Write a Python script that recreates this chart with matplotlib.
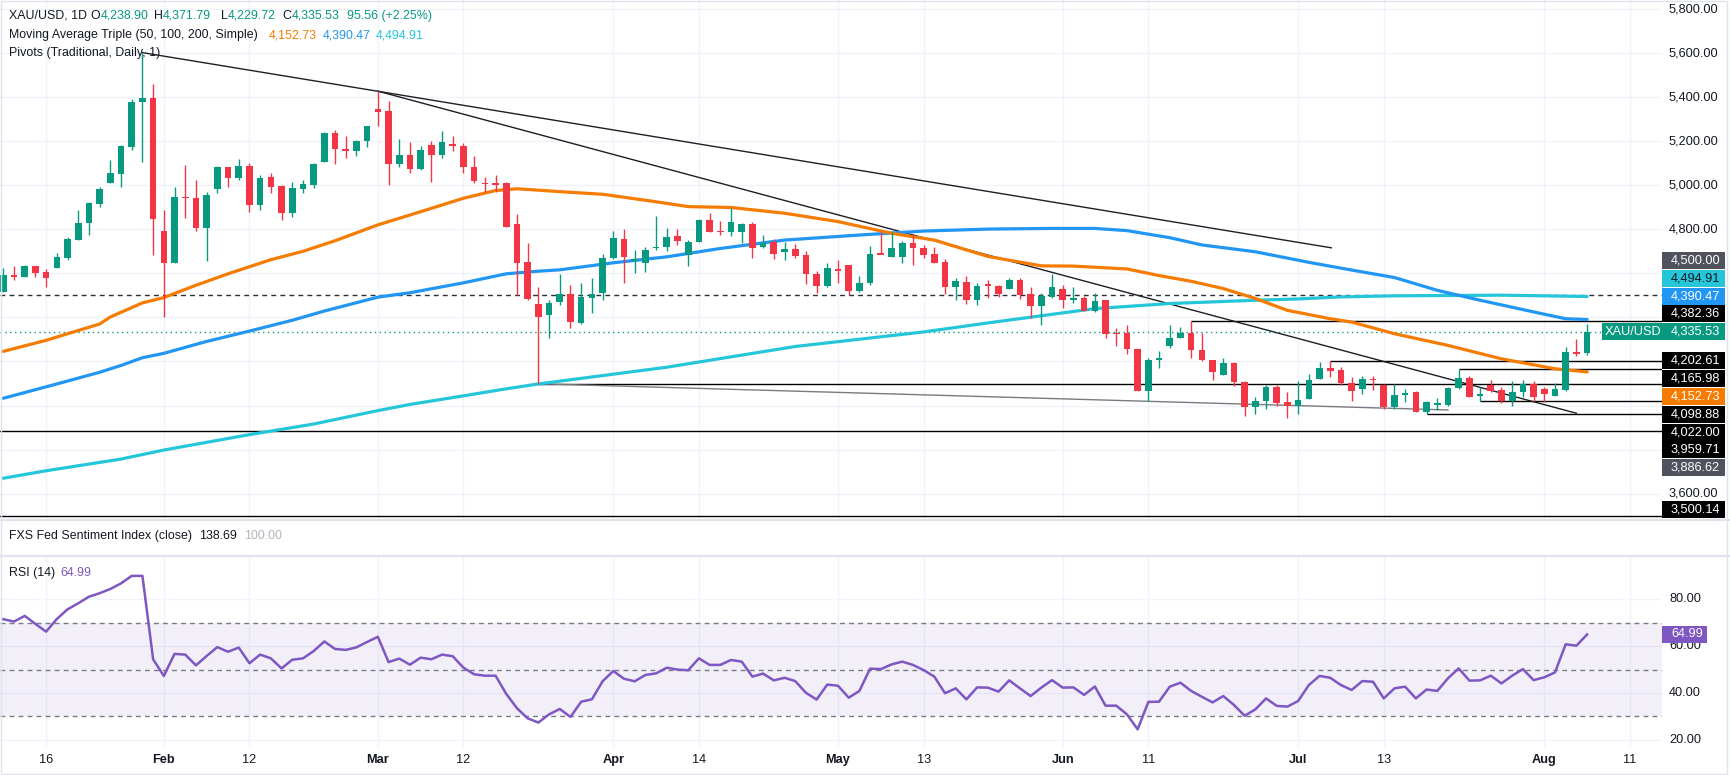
import matplotlib
matplotlib.use("Agg")
import matplotlib.pyplot as plt
import matplotlib.transforms as mtransforms
from matplotlib.patches import Rectangle
import numpy as np
import pandas as pd

plt.rcParams['font.family'] = ['Liberation Sans', 'DejaVu Sans']

# ---------------- data ----------------
opens = [4516, 4592, 4584, 4633, 4604, 4624, 4668, 4751, 4827, 4915,
         5009, 5052, 5173, 5377, 5397, 4792, 4648, 4947, 4943, 4807,
         4985, 5082, 5031, 5087, 4912, 5038, 4997, 4876, 4985, 5003,
         5107, 5239, 5166, 5154, 5199, 5348, 5339, 5097, 5138, 5075,
         5184, 5138, 5189, 5179, 5084, 5009, 5008, 5009, 4824, 4651,
         4460, 4409, 4470, 4508, 4375, 4489, 4511, 4671, 4754, 4657,
         4648, 4713, 4721, 4769, 4683, 4744, 4844, 4792, 4789, 4789,
         4824, 4721, 4741, 4698, 4710, 4683, 4596, 4543, 4622, 4637,
         4519, 4557, 4692, 4672, 4675, 4736, 4715, 4690, 4650, 4539,
         4563, 4478, 4549, 4542, 4531, 4569, 4508, 4452, 4493, 4531,
         4481, 4489, 4429, 4481, 4329, 4331, 4258, 4065, 4206, 4270,
         4308, 4331, 4253, 4208, 4139, 4192, 4109, 3992, 4022, 4083,
         4015, 4000, 4030, 4121, 4171, 4162, 4103, 4074, 4121, 4094,
         3995, 4050, 4060, 3969, 4004, 4004, 4079, 4126, 4045, 4091,
         4072, 4022, 4060, 4098, 4075, 4045, 4071, 4245, 4238.90]
highs = [4625, 4633, 4640, 4633, 4618, 4694, 4766, 4888, 4926, 4994,
         5116, 5184, 5392, 5602, 5460, 4888, 4994, 5093, 5025, 4971,
         5088, 5082, 5120, 5100, 5047, 5055, 5000, 5015, 5025, 5100,
         5243, 5252, 5222, 5207, 5268, 5427, 5384, 5211, 5196, 5179,
         5202, 5245, 5225, 5192, 5131, 5037, 5047, 5014, 4870, 4739,
         4536, 4481, 4599, 4549, 4554, 4581, 4690, 4792, 4801, 4706,
         4718, 4860, 4804, 4800, 4751, 4847, 4876, 4839, 4895, 4827,
         4835, 4774, 4756, 4741, 4733, 4701, 4610, 4646, 4660, 4640,
         4589, 4724, 4789, 4794, 4747, 4777, 4728, 4721, 4665, 4581,
         4589, 4554, 4569, 4546, 4577, 4577, 4536, 4513, 4599, 4546,
         4539, 4498, 4513, 4481, 4352, 4367, 4258, 4217, 4246, 4367,
         4356, 4382.36, 4331, 4208, 4217, 4197, 4113, 4041, 4091, 4091,
         4060, 4113, 4141, 4197, 4202.61, 4174, 4129, 4136, 4133, 4098,
         4098, 4075, 4065, 4022, 4033, 4083, 4165.98, 4136, 4083, 4116,
         4083, 4113, 4116, 4110, 4083, 4103, 4265, 4303, 4371.79]
lows = [4516, 4572, 4584, 4584, 4539, 4624, 4660, 4751, 4774, 4903,
        5009, 4994, 5161, 5104, 4683, 4402, 4648, 4853, 4792, 4657,
        4967, 4990, 5025, 4880, 4888, 4967, 4842, 4858, 4964, 4987,
        5107, 5097, 5123, 5134, 5172, 5268, 5002, 5085, 5055, 5067,
        5014, 5123, 5154, 5055, 5012, 4971, 4971, 4809, 4501, 4478,
        4098.88, 4308, 4455, 4352, 4372, 4420, 4481, 4663, 4557, 4602,
        4605, 4706, 4701, 4731, 4634, 4744, 4789, 4774, 4769, 4739,
        4671, 4716, 4665, 4662, 4671, 4552, 4511, 4539, 4558, 4501,
        4516, 4546, 4686, 4672, 4648, 4637, 4671, 4648, 4508, 4478,
        4463, 4455, 4489, 4493, 4531, 4485, 4399, 4367, 4489, 4445,
        4466, 4429, 4425, 4308, 4270, 4235, 4065, 4022, 4170, 4261,
        4308, 4217, 4202, 4118, 4139, 4088, 3954, 3962, 3984, 4000,
        3943, 3962, 4030, 4121, 4129, 4091, 4022, 4053, 4072, 3984,
        3984, 4018, 3969, 3959.71, 3981, 4000, 4074, 4038, 4022.00, 4060,
        4010, 4000, 4038, 4019, 4018, 4042, 4065, 4224, 4229.72]
closes = [4592, 4584, 4633, 4602, 4580, 4672, 4754, 4827, 4918, 4984,
          5055, 5180, 5380, 5397, 4847, 4648, 4947, 4940, 4807, 4956,
          5084, 5031, 5087, 4912, 5035, 4990, 4876, 4988, 5006, 5097,
          5239, 5164, 5154, 5199, 5268, 5331, 5097, 5138, 5075, 5158,
          5138, 5195, 5176, 5081, 5017, 5006, 5005, 4812, 4648, 4485,
          4402, 4467, 4505, 4379, 4492, 4508, 4668, 4759, 4675, 4663,
          4706, 4721, 4766, 4748, 4744, 4844, 4789, 4788, 4832, 4824,
          4716, 4736, 4689, 4710, 4680, 4595, 4543, 4624, 4612, 4519,
          4554, 4690, 4686, 4715, 4736, 4713, 4683, 4648, 4539, 4566,
          4478, 4543, 4546, 4508, 4572, 4504, 4452, 4498, 4536, 4481,
          4490, 4429, 4473, 4323, 4326, 4258, 4065, 4208, 4217, 4308,
          4331, 4253, 4205, 4151, 4192, 4106, 3995, 4022, 4086, 4010,
          4000, 4025, 4116, 4171, 4159, 4101, 4068, 4121, 4116, 3995,
          4048, 4057, 3969, 4018, 4009, 4079, 4126, 4041, 4050, 4068,
          4022, 4063, 4098, 4038, 4053, 4075, 4245, 4235, 4335.53]

rsi = [71.5, 70.5, 72.9, 69.5, 66.2, 71.6, 75.7, 78.3, 81.1, 82.6,
       84.4, 86.8, 90.0, 90.0, 54.4, 47.3, 56.7, 56.4, 51.8, 55.8,
       59.6, 57.6, 59.4, 52.7, 56.4, 54.8, 50.5, 54.2, 54.8, 57.9,
       62.0, 58.8, 58.4, 59.5, 61.8, 64.0, 53.2, 54.7, 52.1, 55.1,
       54.4, 56.4, 55.7, 50.8, 48.0, 47.4, 47.4, 39.6, 33.5, 29.2,
       27.4, 30.9, 33.2, 29.8, 36.3, 37.3, 45.0, 49.4, 46.1, 45.0,
       47.7, 48.4, 50.8, 50.0, 49.7, 54.8, 52.0, 52.0, 54.1, 53.4,
       47.0, 48.3, 45.4, 46.5, 45.1, 40.1, 37.2, 43.6, 43.1, 38.0,
       40.9, 50.4, 50.2, 52.2, 53.4, 52.0, 49.8, 47.0, 39.9, 42.0,
       37.3, 42.4, 42.3, 40.6, 45.4, 42.0, 38.7, 42.3, 45.5, 42.3,
       42.4, 39.2, 42.8, 34.6, 34.6, 30.9, 24.5, 36.2, 36.3, 42.7,
       44.4, 40.9, 38.4, 36.0, 38.7, 34.9, 30.3, 33.0, 37.7, 34.5,
       34.2, 36.6, 43.4, 47.3, 46.5, 43.4, 41.3, 45.1, 44.8, 37.7,
       42.0, 42.7, 37.7, 41.5, 40.9, 46.3, 50.5, 45.3, 45.4, 47.4,
       44.1, 47.4, 50.2, 45.5, 46.7, 48.8, 60.8, 60.2, 64.99]

# moving averages read at bar positions
ma50_idx = [0, 4, 6, 9, 10, 13, 15, 18, 21, 25, 28, 31, 35, 39, 43, 46, 48, 52, 56,
            61, 64, 68, 73, 78, 83, 87, 92, 97, 100, 105, 108, 111, 114, 117, 120,
            124, 126, 130, 135, 140, 145, 148]
ma50_val = [4246, 4296, 4326, 4370, 4402, 4466, 4490, 4546, 4598, 4662, 4700, 4748,
            4820, 4880, 4941, 4976, 4984, 4971, 4959, 4925, 4903, 4899, 4873, 4835,
            4782, 4751, 4677, 4634, 4633, 4620, 4590, 4564, 4531, 4486, 4432, 4394,
            4379, 4326, 4273, 4212, 4167, 4152.73]
ma100_idx = [0, 5, 9, 11, 13, 15, 19, 23, 27, 30, 35, 38, 43, 47, 50, 52, 57, 62, 67,
             73, 80, 86, 92, 98, 102, 105, 109, 112, 117, 122, 126, 130, 134, 138,
             143, 146, 148]
ma100_val = [4033, 4098, 4151, 4182, 4217, 4237, 4291, 4338, 4387, 4429, 4492, 4512,
             4557, 4598, 4610, 4616, 4648, 4675, 4713, 4751, 4774, 4792, 4801, 4804,
             4804, 4794, 4762, 4729, 4698, 4650, 4615, 4581, 4523, 4478, 4425, 4394,
             4390.47]
ma200_idx = [0, 4, 11, 15, 19, 23, 29, 35, 38, 43, 47, 50, 62, 74, 86, 92, 102, 109,
             117, 121, 125, 130, 140, 148]
ma200_val = [3670, 3704, 3757, 3798, 3833, 3868, 3916, 3977, 4005, 4044, 4076, 4098,
             4174, 4268, 4334, 4375, 4440, 4463, 4478, 4484, 4493, 4498, 4501, 4494.91]

# drawn trend lines (bar index, price)
trend_x0 = [13, 35, 50]
trend_y0 = [5602, 5427, 4098.88]
trend_x1 = [124.1, 147, 135]
trend_y1 = [4716, 3965, 3980]
trend_col = ['#1e1e24', '#1e1e24', '#7a7a80']

# horizontal levels (price, start bar or None = full width)
level_price = [4500.00, 4382.36, 4202.61, 4165.98, 4098.88, 4022.00, 3959.71, 3886.62, 3500.14]
level_start = [None, 111, 124, 136, 50, 138, 133, None, None]
level_bg = ['#50535e', '#000000', '#000000', '#000000', '#000000', '#000000', '#000000',
            '#50535e', '#000000']

tick_dates = ['2026-01-16', '2026-02-02', '2026-02-12', '2026-03-02', '2026-03-12',
              '2026-04-01', '2026-04-14', '2026-05-01', '2026-05-13', '2026-06-01',
              '2026-06-11', '2026-07-01', '2026-07-13', '2026-08-03', '2026-08-11']
tick_labels = ['16', 'Feb', '12', 'Mar', '12', 'Apr', '14', 'May', '13', 'Jun', '11',
               'Jul', '13', 'Aug', '11']

price_ticks = [3600, 3800, 4000, 4200, 4400, 4600, 4800, 5000, 5200, 5400, 5600, 5800]
rsi_ticks = [20, 40, 60, 80]

# ---------------- styling ----------------
GREEN = '#089981'
RED = '#f23645'
ORANGE = '#f57c00'
BLUE = '#2196f3'
CYAN = '#26c6da'
PURPLE = '#7e57c2'
DARK = '#131722'
GRID = '#f0f3fa'
SEP = '#e0e3eb'

W, H = 1730, 775
PR = 1662          # right edge of plot area (px)
AX_TXT = 1669      # x of axis text (px)
BOX_R = 1725

dates = pd.bdate_range('2026-01-12', '2026-08-07')
dates = dates[dates != pd.Timestamp('2026-04-03')]
n = len(closes)


def tick_pos(ds):
    d = pd.Timestamp(ds)
    if d <= dates[-1]:
        return int(dates.searchsorted(d))
    return (len(dates) - 1) + (d - dates[-1]).days


ticks = [tick_pos(d) for d in tick_dates]

fig = plt.figure(figsize=(W / 100, H / 100), dpi=100)
fig.patch.set_facecolor('white')


def axrect(top, bottom):
    return [0, 1 - bottom / H, PR / W, (bottom - top) / H]


ax = fig.add_axes(axrect(0, 520))
axf = fig.add_axes(axrect(520, 556))
axr = fig.add_axes(axrect(556, 747))

XMIN, XMAX = -0.31, 155.0
P_PER_PX = 1 / 0.2203
YMAX = 4800 + 229.3 * P_PER_PX
YMIN = 4800 - 290.7 * P_PER_PX
RSI_PX = 2.343
RMAX = 80 + 43.3 / RSI_PX
RMIN = 80 - 147.7 / RSI_PX

for a in (ax, axf, axr):
    a.set_xlim(XMIN, XMAX)
    a.set_xticks([])
    a.set_yticks([])
    for s in a.spines.values():
        s.set_visible(False)
    a.set_facecolor('white')

ax.set_ylim(YMIN, YMAX)
axr.set_ylim(RMIN, RMAX)
axf.set_ylim(0, 1)

# grids
for t in ticks:
    ax.axvline(t, color=GRID, lw=1.0, zorder=0)
    axr.axvline(t, color=GRID, lw=1.0, zorder=0)
for p in price_ticks:
    ax.axhline(p, color=GRID, lw=1.0, zorder=0)
for r in rsi_ticks:
    axr.axhline(r, color=GRID, lw=1.0, zorder=0)

# MAs
ax.plot(ma200_idx, ma200_val, color=CYAN, lw=2.3, zorder=2, solid_capstyle='round')
ax.plot(ma100_idx, ma100_val, color=BLUE, lw=2.3, zorder=2, solid_capstyle='round')
ax.plot(ma50_idx, ma50_val, color=ORANGE, lw=2.3, zorder=2, solid_capstyle='round')

# levels
for p, s in zip(level_price, level_start):
    if p == 4500.00:
        ax.axhline(p, color='#2a2e39', lw=1.0, ls=(0, (3.5, 3)), zorder=1.5)
    elif s is None:
        ax.axhline(p, color='#000000', lw=1.0, zorder=1.5)
    else:
        ax.hlines(p, s, XMAX, color='#000000', lw=1.0, zorder=1.5)

# current price dotted line
ax.axhline(closes[-1], color=GREEN, lw=1.0, ls=(0, (1, 2.5)), zorder=1.5)

# trend lines
for x0, y0, x1, y1, c in zip(trend_x0, trend_y0, trend_x1, trend_y1, trend_col):
    ax.plot([x0, x1], [y0, y1], color=c, lw=1.0, zorder=1.6)

# candles
o = np.array(opens, float)
h = np.array(highs, float)
l = np.array(lows, float)
c = np.array(closes, float)
x = np.arange(n)
col = np.where(c >= o, GREEN, RED)
ax.vlines(x, l, h, colors=col, lw=1.0, zorder=3)
minh = 1.6 * P_PER_PX
bh = np.abs(c - o)
mid = (o + c) / 2
bb = np.where(bh < minh, mid - minh / 2, np.minimum(o, c))
bh = np.maximum(bh, minh)
ax.bar(x, bh, bottom=bb, width=0.62, color=col, linewidth=0, zorder=4)

# RSI pane
axr.axhspan(30, 70, color=PURPLE, alpha=0.09, lw=0, zorder=0.5)
for lv in (70, 50, 30):
    axr.axhline(lv, color='#787b86', lw=1.0, ls=(0, (3.5, 3)), zorder=1)
axr.plot(x, rsi, color=PURPLE, lw=1.8, zorder=3)

# separators / border
for yy in (520, 556):
    fig.add_artist(plt.Line2D([0, 1], [1 - yy / H, 1 - yy / H], color=SEP, lw=1.6,
                              transform=fig.transFigure))
fig.add_artist(Rectangle((0.5 / W, 1.5 / H), (W - 4) / W, (H - 2.5) / H, fill=False,
                         edgecolor=SEP, lw=1.0, transform=fig.transFigure))

# ---------------- right price axis labels ----------------
tp = mtransforms.blended_transform_factory(fig.transFigure, ax.transData)
gap = 17.8 * P_PER_PX
boxh = 17.0 * P_PER_PX
cur = closes[-1]

labels = [(level_price[i], '{:,.2f}'.format(level_price[i]), level_bg[i], 'white')
          for i in range(len(level_price))]
labels += [(ma50_val[-1], '{:,.2f}'.format(ma50_val[-1]), ORANGE, 'white'),
           (ma100_val[-1], '{:,.2f}'.format(ma100_val[-1]), BLUE, 'white'),
           (ma200_val[-1], '{:,.2f}'.format(ma200_val[-1]), CYAN, DARK)]
above = sorted([lb for lb in labels if lb[0] > cur], key=lambda t: t[0])
below = sorted([lb for lb in labels if lb[0] < cur], key=lambda t: -t[0])
placed = [(cur, cur, '{:,.2f}'.format(cur), GREEN, 'white')]
prev = cur
for p, txt, bg, fg in above:
    pos = max(p, prev + gap)
    placed.append((p, pos, txt, bg, fg))
    prev = pos
prev = cur
for p, txt, bg, fg in below:
    pos = min(p, prev - gap)
    pos = max(pos, YMIN + gap / 2 + 2 * P_PER_PX)
    placed.append((p, pos, txt, bg, fg))
    prev = pos

AXFS = 9.2
for p, pos, txt, bg, fg in placed:
    left = PR if bg != GREEN else 1601.7
    ax.add_patch(Rectangle((left / W, pos - boxh / 2), (BOX_R - left) / W, boxh,
                           transform=tp, facecolor=bg, edgecolor='none',
                           clip_on=False, zorder=10))
    ax.text(AX_TXT / W + 2 / W, pos, txt, transform=tp, color=fg, fontsize=AXFS,
            va='center', ha='left', clip_on=False, zorder=11)
    if bg == GREEN:
        ax.text(1605 / W, pos, 'XAU/USD', transform=tp, color='white', fontsize=AXFS,
                va='center', ha='left', clip_on=False, zorder=11)

box_pos = [q[1] for q in placed]
for p in price_ticks:
    if YMIN < p < YMAX and all(abs(p - b) > 14 * P_PER_PX for b in box_pos):
        ax.text(AX_TXT / W, p, '{:,.2f}'.format(p), transform=tp, color=DARK,
                fontsize=AXFS, va='center', ha='left', clip_on=False)

# RSI axis labels
tr = mtransforms.blended_transform_factory(fig.transFigure, axr.transData)
for r in rsi_ticks:
    axr.text(AX_TXT / W, r, '{:.2f}'.format(r), transform=tr, color=DARK,
             fontsize=AXFS, va='center', ha='left', clip_on=False, zorder=5)
rbh = 17.0 / RSI_PX
axr.add_patch(Rectangle((PR / W, rsi[-1] - rbh / 2), (1707 - PR) / W, rbh, transform=tr,
                        facecolor=PURPLE, edgecolor='none', clip_on=False, zorder=10))
axr.text(AX_TXT / W + 2 / W, rsi[-1], '{:.2f}'.format(rsi[-1]), transform=tr,
         color='white', fontsize=AXFS, va='center', ha='left', clip_on=False, zorder=11)

# time axis labels
tx = mtransforms.blended_transform_factory(axr.transData, fig.transFigure)
for t, lab in zip(ticks, tick_labels):
    bold = lab.isalpha()
    axr.text(t, 1 - 760 / H, lab, transform=tx, color=DARK, fontsize=AXFS,
             ha='center', va='center', fontweight='bold' if bold else 'normal',
             clip_on=False)

# ---------------- legends ----------------
renderer = fig.canvas.get_renderer()
LFS = 8.9


def seq(x_px, y_px, parts, size=LFS):
    xx = x_px
    for txt, cc in parts:
        tt = fig.text(xx / W, 1 - y_px / H, txt, color=cc, fontsize=size,
                      va='center', ha='left', zorder=20)
        xx = tt.get_window_extent(renderer).x1
    return xx


chg = closes[-1] - closes[-2]
seq(9.3, 16, [('XAU/USD, 1D', DARK)])
seq(90.7, 16, [('O', DARK), ('{:,.2f}'.format(opens[-1]), GREEN)])
seq(154, 16, [('H', DARK), ('{:,.2f}'.format(highs[-1]), GREEN)])
seq(220.7, 16, [('L', DARK), ('{:,.2f}'.format(lows[-1]), GREEN)])
seq(282.7, 16, [('C', DARK), ('{:,.2f}'.format(closes[-1]), GREEN)])
seq(346.7, 16, [('95.56 (+2.25%)', GREEN)])
seq(9.3, 35, [('Moving Average Triple (50, 100, 200, Simple)', DARK)])
seq(268.3, 35, [('{:,.2f}'.format(ma50_val[-1]), ORANGE)])
seq(322.7, 35, [('{:,.2f}'.format(ma100_val[-1]), BLUE)])
seq(376, 35, [('{:,.2f}'.format(ma200_val[-1]), CYAN)])
seq(9.3, 52.7, [('Pivots (Traditional, Daily, 1)', DARK)])
seq(9.3, 536, [('FXS Fed Sentiment Index (close)', DARK)])
seq(199, 536, [('138.69', DARK)])
seq(244.2, 536, [('100.00', '#b2b5be')])
seq(9.3, 573.3, [('RSI (14)', DARK)])
seq(60.5, 573.3, [('{:.2f}'.format(rsi[-1]), PURPLE)])

fig.savefig('out.png', dpi=100, facecolor='white')
